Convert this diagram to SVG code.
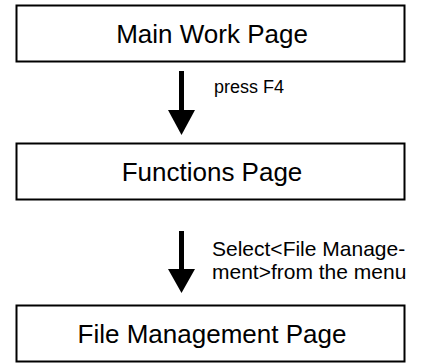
<svg xmlns="http://www.w3.org/2000/svg" width="424" height="363" viewBox="0 0 424 363">
<style>
.box{fill:#fff;stroke:#000;stroke-width:2}
.big{font-family:"Liberation Sans",Arial,sans-serif;font-size:26px;fill:#000;text-anchor:middle}
.small{font-family:"Liberation Sans",Arial,sans-serif;font-size:21px;fill:#000}
.arrow{fill:#000}
</style>
<rect width="424" height="363" fill="#fff"/>
<g id="main-work-page">
<rect class="box" x="16.5" y="5.5" width="388" height="56"/>
<text class="big" x="212" y="43">Main Work Page</text>
</g>
<g id="functions-page">
<rect class="box" x="16.5" y="143.5" width="388" height="56"/>
<text class="big" x="212" y="181">Functions Page</text>
</g>
<g id="file-management-page">
<rect class="box" x="16.5" y="305.5" width="388" height="56"/>
<text class="big" x="212" y="343">File Management Page</text>
</g>
<g id="connectors">
<g id="arrow1">
<rect class="arrow" x="179" y="71" width="5" height="40"/>
<polygon class="arrow" points="168,110 195,110 181.5,135"/>
<text class="small" x="214" y="93" style="font-size:18px">press F4</text>
</g>
<g id="arrow2">
<rect class="arrow" x="179" y="231" width="5" height="40"/>
<polygon class="arrow" points="168,269 195,269 181.5,293"/>
<text class="small" x="212" y="256">Select&lt;File Manage-</text>
<text class="small" x="212" y="279">ment&gt;from the menu</text>
</g>
</g>
</svg>
